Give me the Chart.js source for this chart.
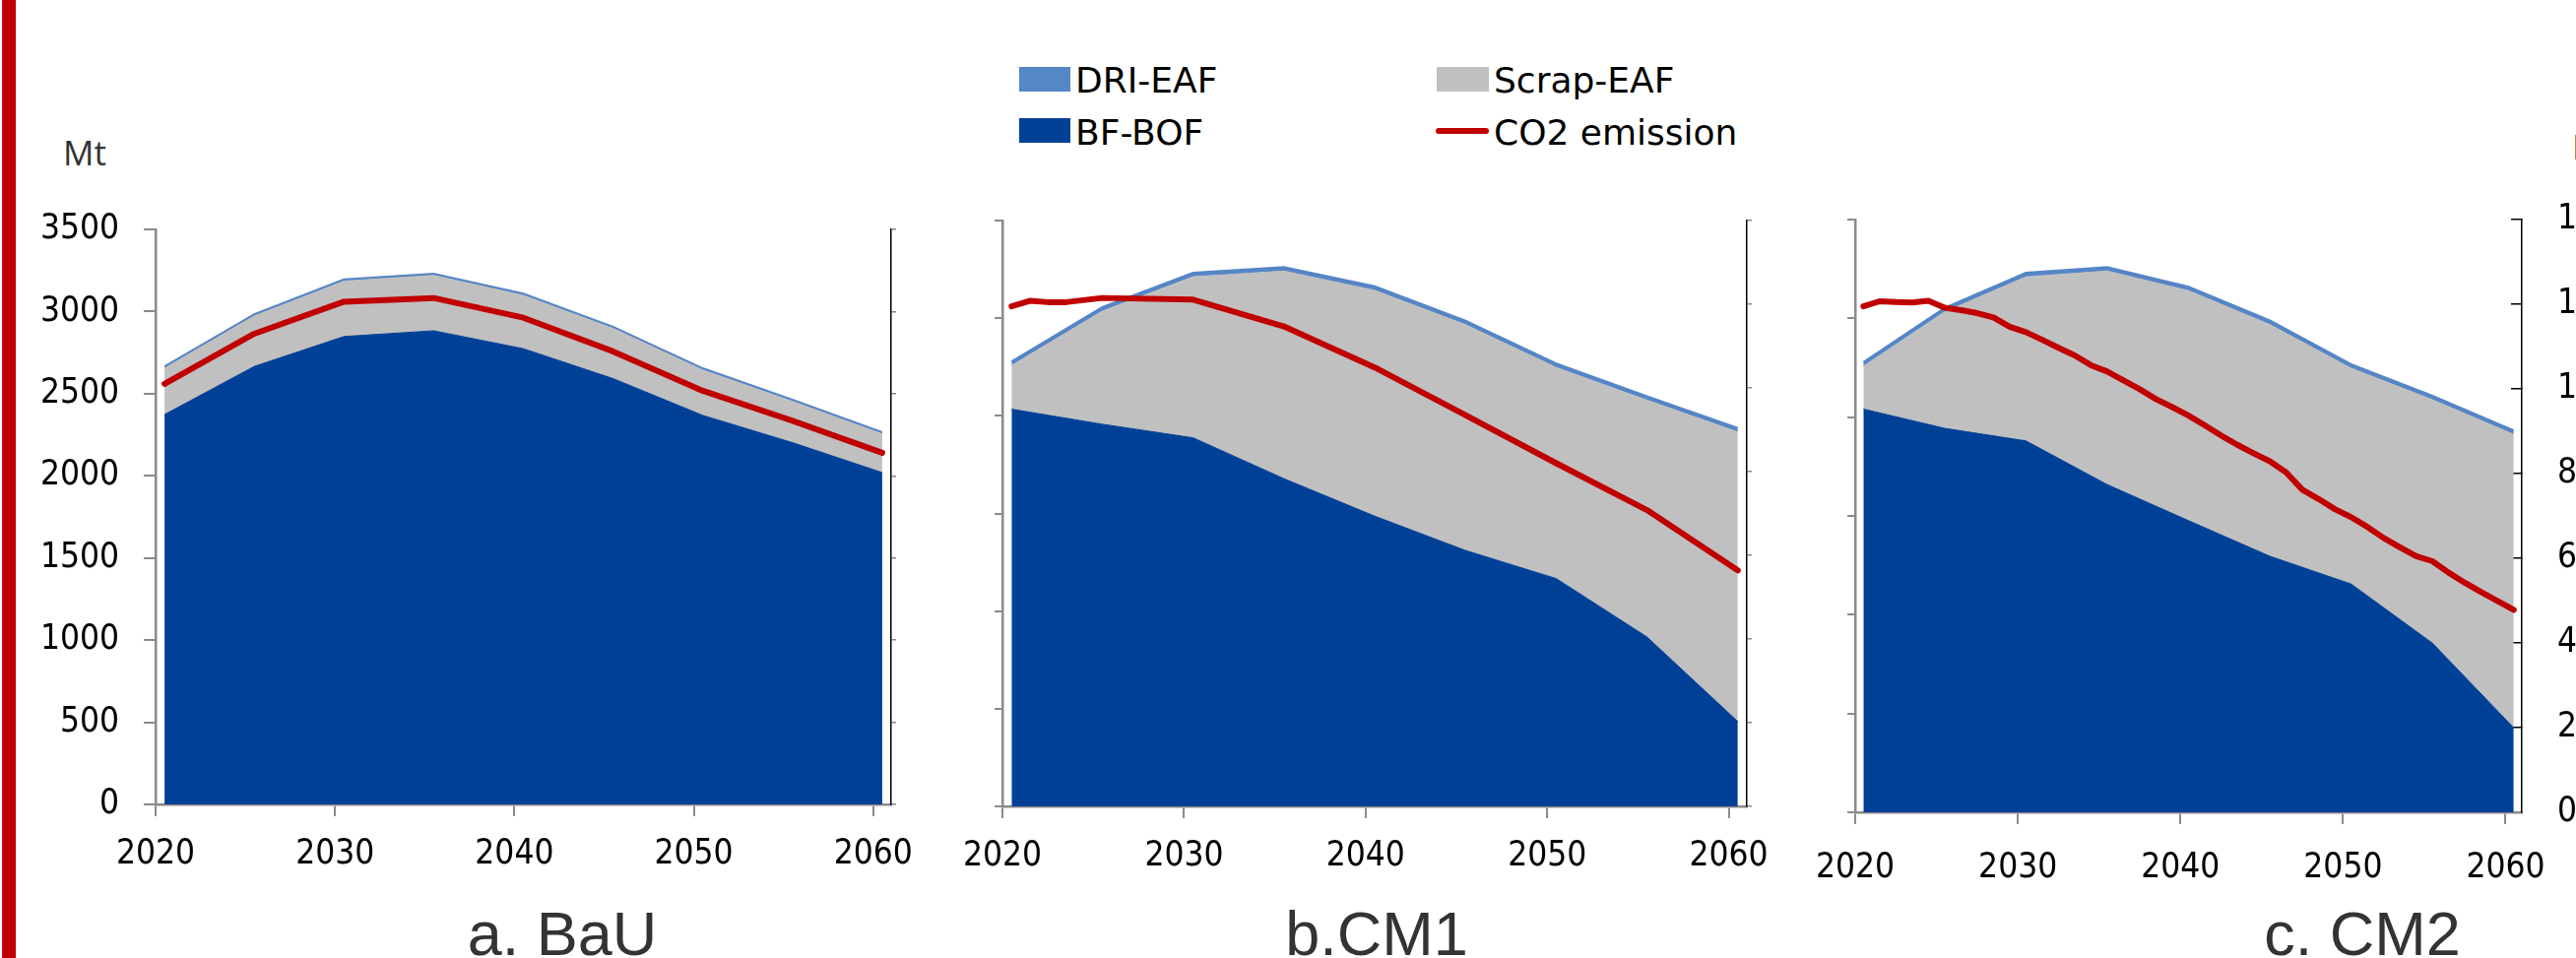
<!DOCTYPE html>
<html>
<head>
<meta charset="utf-8">
<script src="https://cdn.jsdelivr.net/npm/chart.js@4/dist/chart.umd.min.js"></script>
<style>
  html, body { margin: 0; padding: 0; background: #fff; }
  body { width: 2616px; height: 973px; position: relative; overflow: hidden; }
  canvas { position: absolute; }
  .t { position: absolute; white-space: nowrap; line-height: 1; }
  .unit { font-family: "Open Sans", sans-serif; font-size: 35px; color: #333; }
  .lg { font-family: "DejaVu Sans", sans-serif; font-size: 36px; color: #000; }
  .sw { position: absolute; }
  .title { font-family: "Liberation Sans", Arial, sans-serif; font-size: 63px; color: #333; width: 400px; text-align: center; }
</style>
</head>
<body>
<div class="sw" style="left:2px;top:0;width:14px;height:973px;background:#c00000"></div>

<div class="t unit" style="left:64px;top:137px">Mt</div>
<div class="t unit" style="left:2612px;top:131px">Mt</div>

<div class="sw" style="left:1035px;top:68px;width:52px;height:25px;background:#5586c6"></div>
<div class="t lg" style="left:1092px;top:64px">DRI-EAF</div>
<div class="sw" style="left:1459px;top:68px;width:53px;height:25px;background:#c0c0c0"></div>
<div class="t lg" style="left:1517px;top:64px">Scrap-EAF</div>
<div class="sw" style="left:1035px;top:120px;width:52px;height:25px;background:#004097"></div>
<div class="t lg" style="left:1092px;top:117px">BF-BOF</div>
<div class="sw" style="left:1458px;top:130px;width:54px;height:6px;background:#c00000;border-radius:3px"></div>
<div class="t lg" style="left:1517px;top:117px">CO2 emission</div>

<canvas id="cBaU" width="940" height="720" style="left:20px;top:190px;width:940px;height:720px"></canvas>
<canvas id="cCM1" width="860" height="720" style="left:960px;top:190px;width:860px;height:720px"></canvas>
<canvas id="cCM2" width="796" height="720" style="left:1820px;top:190px;width:796px;height:720px"></canvas>

<div class="t title" style="left:371px;top:917px">a. BaU</div>
<div class="t title" style="left:1198px;top:917px">b.CM1</div>
<div class="t title" style="left:2199px;top:917px">c. CM2</div>

<script>
// years of the 5-year model steps
const yearsFive = [2020, 2025, 2030, 2035, 2040, 2045, 2050, 2055, 2060];
const xTickYears = [2020, 2030, 2040, 2050, 2060];
const prodTicks = [0, 500, 1000, 1500, 2000, 2500, 3000, 3500];
const co2Ticks = [0, 200, 400, 600, 800, 1000, 1200, 1400];

// a. BaU (Mt)
const bfBofBaU = [2373, 2666, 2848, 2883, 2774, 2592, 2368, 2202, 2020];
const scrapEafBaU = [282, 307, 337, 337, 324, 305, 276, 251, 235];
const driEafBaU = [12, 12, 12, 12, 12, 12, 12, 12, 12];
const co2YearsBaU = [2020, 2025, 2030, 2035, 2040, 2045, 2050, 2055, 2060];
const co2BaU = [1024, 1146, 1224, 1233, 1185, 1103, 1007, 934, 856];

// b. CM1
const bfBofCM1 = [2373, 2283, 2202, 1958, 1734, 1529, 1361, 1012, 507];
const scrapEafCM1 = [261, 676, 962, 1240, 1349, 1349, 1261, 1415, 1730];
const driEafCM1 = [24, 24, 24, 24, 24, 24, 24, 24, 24];
const co2YearsCM1 = [2020, 2021, 2022, 2023, 2025, 2030, 2035, 2040, 2045, 2050, 2055, 2060];
const co2CM1 = [1195, 1208, 1205, 1205, 1215, 1211, 1147, 1049, 935, 820, 708, 564];

// c. CM2
const bfBofCM2 = [2381, 2267, 2193, 1935, 1722, 1512, 1348, 999, 499];
const scrapEafCM2 = [253, 688, 969, 1261, 1358, 1368, 1274, 1437, 1732];
const driEafCM2 = [24, 24, 24, 24, 24, 24, 24, 24, 24];
const co2YearsCM2 = [2020, 2021, 2022, 2023, 2024, 2025, 2026, 2027, 2028, 2029,
  2030, 2031, 2032, 2033, 2034, 2035, 2036, 2037, 2038, 2039,
  2040, 2041, 2042, 2043, 2044, 2045, 2046, 2047, 2048, 2049,
  2050, 2051, 2052, 2053, 2054, 2055, 2056, 2057, 2058, 2059, 2060];
const co2CM2 = [1195, 1207, 1205, 1204, 1208, 1192, 1186, 1179, 1169, 1147,
  1134, 1116, 1097, 1079, 1056, 1041, 1020, 999, 976, 957,
  937, 914, 890, 868, 848, 829, 803, 762, 740, 716,
  697, 674, 648, 626, 605, 593, 566, 542, 520, 499, 478];

const red = '#c00000', navy = '#004097', grey = '#c0c0c0', lightBlue = '#5586c6';
const axisGrey = '#8a8a8a';
const tickFont = { family: '"DejaVu Sans Condensed", "DejaVu Sans", sans-serif', size: 35 };

// each year is drawn in the middle of its year slot, like the original category axis
const pts = (xs, ys) => xs.map((x, i) => ({ x: x + 0.5, y: ys[i] }));
const setTicks = arr => s => { s.ticks = arr.map(v => ({ value: v })); };
// fixed axis sizes so the three plot areas land where the original ones are
const fixW = w => s => { s.width = w; s.paddingTop = 0; s.paddingBottom = 0; };

function panel(id, d, o) {
  return new Chart(document.getElementById(id), {
    type: 'line',
    data: {
      datasets: [
        { label: 'CO2 emission', data: pts(d.co2Years, d.co2), yAxisID: 'y2', borderColor: red, borderWidth: 6,
          borderCapStyle: 'round', borderJoinStyle: 'round', fill: false },
        { label: 'BF-BOF', data: pts(yearsFive, d.bf), yAxisID: 'y', backgroundColor: navy, borderColor: navy, borderWidth: 1, fill: 'origin' },
        { label: 'Scrap-EAF', data: pts(yearsFive, d.scrap), yAxisID: 'y', backgroundColor: grey, borderColor: grey, borderWidth: 1, fill: '-1' },
        { label: 'DRI-EAF', data: pts(yearsFive, d.dri), yAxisID: 'y', backgroundColor: lightBlue, borderColor: lightBlue, borderWidth: o.driLine, fill: '-1' }
      ]
    },
    options: {
      responsive: false,
      animation: false,
      devicePixelRatio: 1,
      layout: { padding: { top: o.top, left: 0, right: 0, bottom: 0 } },
      plugins: { legend: { display: false }, tooltip: { enabled: false } },
      elements: { line: { tension: 0 }, point: { radius: 0 } },
      scales: {
        x: {
          type: 'linear', min: 2020, max: 2061,
          afterBuildTicks: setTicks(xTickYears),
          afterFit: s => { s.height = o.xh; },
          ticks: { autoSkip: false, maxRotation: 0, padding: o.xpad, color: '#000', font: tickFont, callback: v => String(v) },
          grid: { drawOnChartArea: false, color: axisGrey, lineWidth: 2, tickLength: 12 },
          border: { color: axisGrey, width: 2.5 }
        },
        y: {
          position: 'left', stacked: true, min: 0, max: 3500,
          afterBuildTicks: o.leftLabels ? setTicks(prodTicks) : undefined,
          afterFit: fixW(o.yw),
          ticks: o.leftLabels
            ? { padding: 25, color: '#000', font: tickFont, callback: v => String(v) }
            : { display: false, count: 7 },
          grid: { drawOnChartArea: false, color: axisGrey, lineWidth: 2, tickLength: o.leftLabels ? 12 : 8 },
          border: { color: axisGrey, width: 2.5 }
        },
        y2: {
          position: 'right', min: 0, max: 1400,
          afterBuildTicks: setTicks(co2Ticks),
          afterFit: fixW(o.y2w),
          ticks: o.rightLabels
            ? { padding: 47, color: '#000', font: tickFont, callback: v => String(v) }
            : { display: false },
          grid: { drawOnChartArea: false, color: o.rightLabels ? '#000' : axisGrey, lineWidth: 1.5, tickLength: o.rightLabels ? -11 : 5 },
          border: { color: '#000', width: 1.5 }
        }
      }
    }
  });
}

panel('cBaU', { bf: bfBofBaU, scrap: scrapEafBaU, dri: driEafBaU, co2Years: co2YearsBaU, co2: co2BaU },
  { top: 43, yw: 138, y2w: 55, xh: 93, xpad: 18, leftLabels: true, rightLabels: false, driLine: 1.5 });
panel('cCM1', { bf: bfBofCM1, scrap: scrapEafCM1, dri: driEafCM1, co2Years: co2YearsCM1, co2: co2CM1 },
  { top: 34, yw: 53, y2w: 46, xh: 91, xpad: 18, leftLabels: false, rightLabels: false, driLine: 2 });
panel('cCM2', { bf: bfBofCM2, scrap: scrapEafCM2, dri: driEafCM2, co2Years: co2YearsCM2, co2: co2CM2 },
  { top: 33, yw: 58, y2w: 55, xh: 85, xpad: 24, leftLabels: false, rightLabels: true, driLine: 2 });
</script>
</body>
</html>
